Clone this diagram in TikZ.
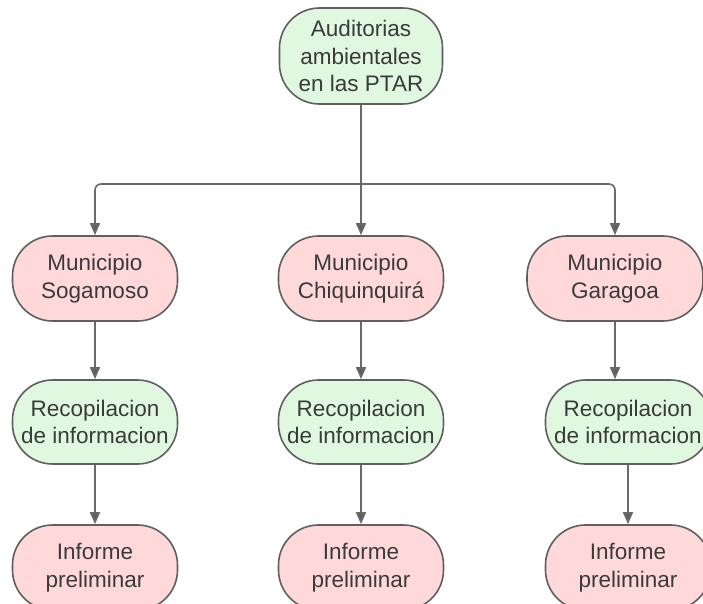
\documentclass[tikz,border=0pt]{standalone}
\usepackage{fontspec}
\setmainfont{Liberation Sans}
\usetikzlibrary{arrows.meta}
\definecolor{pinkfill}{HTML}{FFD9D9}
\definecolor{greenfill}{HTML}{E1F8E0}
\definecolor{edge}{HTML}{5F5F5F}
\definecolor{txt}{HTML}{3A3A3A}
\definecolor{lin}{HTML}{6A6A6A}
\tikzset{
  box/.style={draw=edge, line width=1.6pt, rounded corners=40pt, align=center,
    text=txt, font=\fontsize{22.5pt}{27.5pt}\selectfont, inner sep=0pt,
    minimum height=85pt, minimum width=165pt},
  pinkbox/.style={box, fill=pinkfill},
  greenbox/.style={box, fill=greenfill},
  arr/.style={draw=lin, line width=1.6pt, -{Triangle[width=10pt,length=12pt,fill=edge]}}
}
\begin{document}
\begin{tikzpicture}[x=1pt,y=-1pt]
\useasboundingbox (0,0) rectangle (703,603);
\fill[white] (0,0) rectangle (703,603);
\node[greenbox, minimum width=163pt, minimum height=96pt, rounded corners=40pt] (top) at (361,56) {Auditorias\\ambientales\\en las PTAR};
\node[pinkbox] (sog) at (95,278.5) {Municipio\\Sogamoso};
\node[pinkbox] (chi) at (361,278.5) {Municipio\\Chiquinquirá};
\node[pinkbox, minimum width=176pt] (gar) at (615,278.5) {Municipio\\Garagoa};
\node[greenbox, minimum height=84pt] (rec1) at (95,422) {Recopilacion\\de informacion};
\node[greenbox, minimum height=84pt] (rec2) at (361,422) {Recopilacion\\de informacion};
\node[greenbox, minimum height=84pt] (rec3) at (628,422) {Recopilacion\\de informacion};
\node[pinkbox] (inf1) at (95,567.5) {Informe\\preliminar};
\node[pinkbox] (inf2) at (361,567.5) {Informe\\preliminar};
\node[pinkbox] (inf3) at (628,567.5) {Informe\\preliminar};
\coordinate (bus) at (361,184);
\draw[draw=lin, line width=1.6pt] (top.south) -- (bus);
\draw[arr, rounded corners=6pt] (bus) -| (sog.north);
\draw[arr] (bus) -- (chi.north);
\draw[arr, rounded corners=6pt] (bus) -| (gar.north);
\draw[arr] (sog.south) -- (rec1.north);
\draw[arr] (chi.south) -- (rec2.north);
\draw[arr] (gar.south) -- (gar.south |- rec3.north);
\draw[arr] (rec1.south) -- (inf1.north);
\draw[arr] (rec2.south) -- (inf2.north);
\draw[arr] (rec3.south) -- (inf3.north);
\end{tikzpicture}
\end{document}
